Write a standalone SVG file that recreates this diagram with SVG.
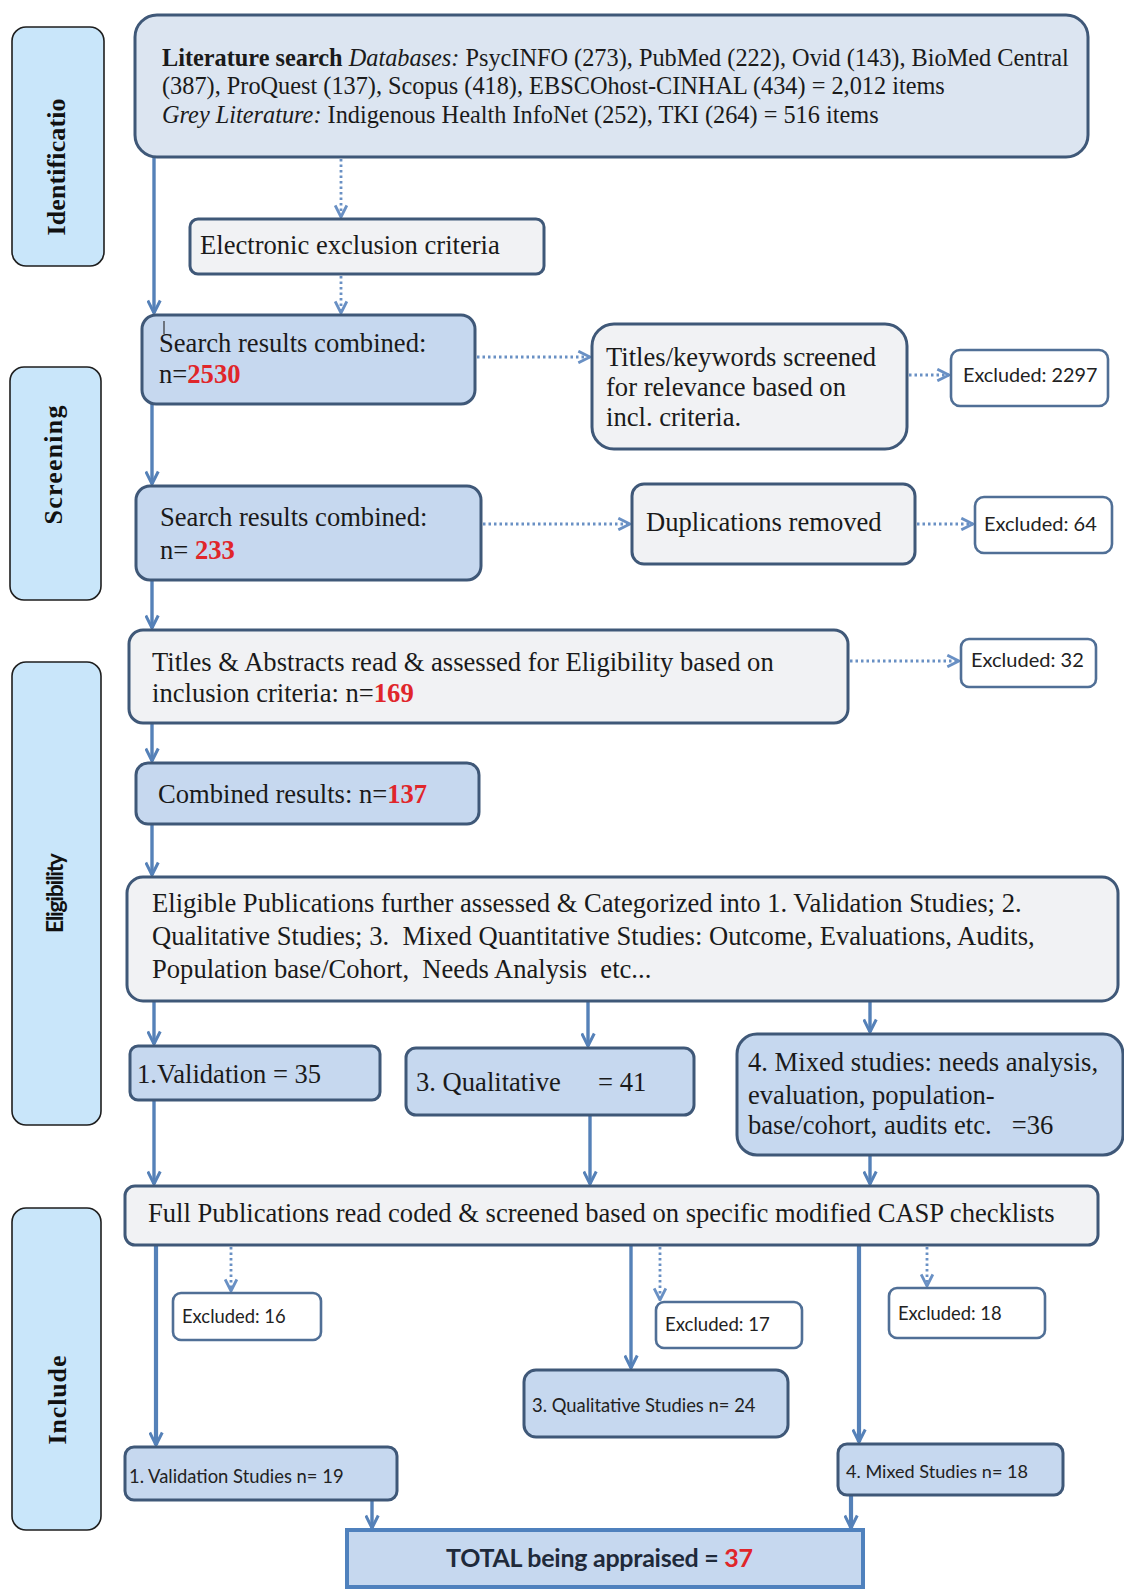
<svg xmlns="http://www.w3.org/2000/svg" width="1124" height="1589" viewBox="0 0 1124 1589">
<style>
.side{fill:#c9e6fa;stroke:#1e1e1e;stroke-width:1.6}
.lab{font-family:"Liberation Serif",serif;font-weight:bold;font-size:26px;fill:#111}
.labs{font-family:Lato,"Liberation Sans",sans-serif;font-weight:bold;font-size:23px;fill:#111}
.bluebox{fill:#c6d8ef;stroke:#3f5878;stroke-width:3}
.greybox{fill:#f1f2f4;stroke:#3f5878;stroke-width:3}
.litbox{fill:#dce5f1;stroke:#3f5878;stroke-width:3}
.exbox{fill:#ffffff;stroke:#506f96;stroke-width:2.6}
.t{font-family:"Liberation Serif",serif;font-size:26.6px;fill:#1a1a1a}
.tl{font-family:"Liberation Serif",serif;font-size:24.3px;fill:#1a1a1a}
.s{font-family:Lato,"Liberation Sans",sans-serif;font-size:18.4px;fill:#222}
.red{fill:#e0262a;font-weight:bold}
.c{fill:none;stroke:#5581b8;stroke-width:3.4}
.d{fill:none;stroke:#6990c4;stroke-width:2.8;stroke-dasharray:2.5 3}
</style>
<defs>
<marker id="ah" viewBox="0 0 12 12" refX="11" refY="6" markerWidth="15" markerHeight="15" markerUnits="userSpaceOnUse" orient="auto">
<path d="M1,1 L11,6 L1,11" fill="none" stroke="#5581b8" stroke-width="2.4"/>
</marker>
<marker id="ahd" viewBox="0 0 12 12" refX="11" refY="6" markerWidth="14" markerHeight="14" markerUnits="userSpaceOnUse" orient="auto">
<path d="M1,1 L11,6 L1,11" fill="none" stroke="#6990c4" stroke-width="2.4"/>
</marker>
</defs>
<rect width="1124" height="1589" fill="#ffffff"/>

<g id="phases">
<g id="phase-identification">
<rect class="side" x="12" y="27" width="92" height="239" rx="14"/>
<text class="lab" transform="translate(56,167) rotate(-90)" text-anchor="middle" dominant-baseline="central" textLength="137">Identificatio</text>
</g>
<g id="phase-screening">
<rect class="side" x="10" y="367" width="91" height="233" rx="14"/>
<text class="lab" transform="translate(53,465) rotate(-90)" text-anchor="middle" dominant-baseline="central" textLength="119">Screening</text>
</g>
<g id="phase-eligibility">
<rect class="side" x="12" y="662" width="89" height="463" rx="14"/>
<text class="labs" transform="translate(54,893) rotate(-90)" text-anchor="middle" dominant-baseline="central" textLength="80">Eligibility</text>
</g>
<g id="phase-include">
<rect class="side" x="12" y="1208" width="89" height="322" rx="14"/>
<text class="lab" transform="translate(57,1400) rotate(-90)" text-anchor="middle" dominant-baseline="central" textLength="89">Include</text>
</g>
</g>

<g id="connectors">
<line class="c" x1="154" y1="157" x2="154" y2="313" marker-end="url(#ah)"/>
<line class="d" x1="341" y1="159" x2="341" y2="217" marker-end="url(#ahd)"/>
<line class="d" x1="341" y1="276" x2="341" y2="313" marker-end="url(#ahd)"/>
<line class="d" x1="477" y1="357" x2="590" y2="357" marker-end="url(#ahd)"/>
<line class="d" x1="909" y1="375" x2="949" y2="375" marker-end="url(#ahd)"/>
<line class="c" x1="152" y1="404" x2="152" y2="484" marker-end="url(#ah)"/>
<line class="d" x1="483" y1="524" x2="630" y2="524" marker-end="url(#ahd)"/>
<line class="d" x1="917" y1="524" x2="973" y2="524" marker-end="url(#ahd)"/>
<line class="c" x1="152" y1="580" x2="152" y2="628" marker-end="url(#ah)"/>
<line class="d" x1="850" y1="661" x2="959" y2="661" marker-end="url(#ahd)"/>
<line class="c" x1="152" y1="723" x2="152" y2="761" marker-end="url(#ah)"/>
<line class="c" x1="152" y1="824" x2="152" y2="875" marker-end="url(#ah)"/>
<line class="c" x1="154" y1="1001" x2="154" y2="1044" marker-end="url(#ah)"/>
<line class="c" x1="588" y1="1001" x2="588" y2="1046" marker-end="url(#ah)"/>
<line class="c" x1="870" y1="1001" x2="870" y2="1032" marker-end="url(#ah)"/>
<line class="c" x1="154" y1="1100" x2="154" y2="1184" marker-end="url(#ah)"/>
<line class="c" x1="590" y1="1115" x2="590" y2="1184" marker-end="url(#ah)"/>
<line class="c" x1="870" y1="1155" x2="870" y2="1184" marker-end="url(#ah)"/>
<line class="c" x1="156" y1="1245" x2="156" y2="1445" marker-end="url(#ah)" style="stroke-width:4.2"/>
<line class="d" x1="231" y1="1247" x2="231" y2="1291" marker-end="url(#ahd)"/>
<line class="c" x1="631" y1="1245" x2="631" y2="1368" marker-end="url(#ah)"/>
<line class="d" x1="660" y1="1247" x2="660" y2="1300" marker-end="url(#ahd)"/>
<line class="c" x1="859" y1="1245" x2="859" y2="1442" marker-end="url(#ah)" style="stroke-width:4.2"/>
<line class="d" x1="927" y1="1247" x2="927" y2="1286" marker-end="url(#ahd)"/>
<line class="c" x1="372" y1="1500" x2="372" y2="1528" marker-end="url(#ah)"/>
<line class="c" x1="851" y1="1495" x2="851" y2="1528" marker-end="url(#ah)" style="stroke-width:4.2"/>
</g>

<g id="n-literature">
<rect class="litbox" x="135" y="15" width="953" height="142" rx="22"/>
<text class="tl" x="162" y="66"><tspan font-weight="bold">Literature search</tspan> <tspan font-style="italic">Databases:</tspan> PsycINFO (273), PubMed (222), Ovid (143), BioMed Central</text>
<text class="tl" x="162" y="94">(387), ProQuest (137), Scopus (418), EBSCOhost-CINHAL (434) = 2,012 items</text>
<text class="tl" x="162" y="123"><tspan font-style="italic">Grey Literature:</tspan> Indigenous Health InfoNet (252), TKI (264) = 516 items</text>
</g>

<g id="n-electronic">
<rect class="greybox" x="190" y="219" width="354" height="55" rx="8"/>
<text class="t" x="200" y="254">Electronic exclusion criteria</text>
</g>

<g id="n-search2530">
<rect class="bluebox" x="142" y="315" width="333" height="89" rx="14"/>
<line x1="164" y1="321" x2="164" y2="334" stroke="#333" stroke-width="1.2"/>
<text class="t" x="159" y="352">Search results combined:</text>
<text class="t" x="159" y="383">n=<tspan class="red">2530</tspan></text>
</g>

<g id="n-titles-kw">
<rect class="greybox" x="592" y="324" width="315" height="125" rx="22"/>
<text class="t" x="606" y="366">Titles/keywords screened</text>
<text class="t" x="606" y="396">for relevance based on</text>
<text class="t" x="606" y="426">incl. criteria.</text>
</g>

<g id="n-ex2297">
<rect class="exbox" x="951" y="350" width="157" height="56" rx="9"/>
<text class="s" x="963" y="382" style="font-size:19.8px">Excluded: 2297</text>
</g>

<g id="n-search233">
<rect class="bluebox" x="136" y="486" width="345" height="94" rx="14"/>
<text class="t" x="160" y="526">Search results combined:</text>
<text class="t" x="160" y="559">n= <tspan class="red">233</tspan></text>
</g>

<g id="n-duplications">
<rect class="greybox" x="632" y="484" width="283" height="80" rx="12"/>
<text class="t" x="646" y="531">Duplications removed</text>
</g>

<g id="n-ex64">
<rect class="exbox" x="975" y="497" width="137" height="56" rx="9"/>
<text class="s" x="984" y="531" style="font-size:20px">Excluded: 64</text>
</g>

<g id="n-titles-abs">
<rect class="greybox" x="129" y="630" width="719" height="93" rx="14"/>
<text class="t" x="152" y="671">Titles &amp; Abstracts read &amp; assessed for Eligibility based on</text>
<text class="t" x="152" y="702">inclusion criteria: n=<tspan class="red">169</tspan></text>
</g>

<g id="n-ex32">
<rect class="exbox" x="961" y="639" width="135" height="48" rx="8"/>
<text class="s" x="971" y="667" style="font-size:20px">Excluded: 32</text>
</g>

<g id="n-combined137">
<rect class="bluebox" x="136" y="763" width="343" height="61" rx="12"/>
<text class="t" x="158" y="803">Combined results: n=<tspan class="red">137</tspan></text>
</g>

<g id="n-eligible">
<rect class="greybox" x="127" y="877" width="991" height="124" rx="16"/>
<text class="t" x="152" y="912">Eligible Publications further assessed &amp; Categorized into 1. Validation Studies; 2.</text>
<text class="t" x="152" y="945" xml:space="preserve">Qualitative Studies; 3.  Mixed Quantitative Studies: Outcome, Evaluations, Audits,</text>
<text class="t" x="152" y="978" xml:space="preserve">Population base/Cohort,  Needs Analysis  etc...</text>
</g>

<g id="n-val35">
<rect class="bluebox" x="130" y="1046" width="250" height="54" rx="8"/>
<text class="t" x="137" y="1083">1.Validation = 35</text>
</g>

<g id="n-qual41">
<rect class="bluebox" x="406" y="1048" width="288" height="67" rx="10"/>
<text class="t" x="416" y="1091">3. Qualitative<tspan x="598">= 41</tspan></text>
</g>

<g id="n-mixed36">
<rect class="bluebox" x="737" y="1034" width="386" height="121" rx="20"/>
<text class="t" x="748" y="1071">4. Mixed studies: needs analysis,</text>
<text class="t" x="748" y="1104">evaluation, population-</text>
<text class="t" x="748" y="1134" xml:space="preserve">base/cohort, audits etc.   =36</text>
</g>

<g id="n-fullpubs">
<rect class="greybox" x="125" y="1186" width="973" height="59" rx="10"/>
<text class="t" x="148" y="1222">Full Publications read coded &amp; screened based on specific modified CASP checklists</text>
</g>

<g id="n-ex16">
<rect class="exbox" x="173" y="1293" width="148" height="47" rx="8"/>
<text class="s" x="182" y="1323">Excluded: 16</text>
</g>

<g id="n-ex17">
<rect class="exbox" x="656" y="1302" width="146" height="46" rx="8"/>
<text class="s" x="665" y="1331" style="font-size:18.6px">Excluded: 17</text>
</g>

<g id="n-ex18">
<rect class="exbox" x="889" y="1288" width="156" height="50" rx="8"/>
<text class="s" x="898" y="1320">Excluded: 18</text>
</g>

<g id="n-qual24">
<rect class="bluebox" x="524" y="1370" width="264" height="67" rx="12"/>
<text class="s" x="532" y="1412">3. Qualitative Studies n= 24</text>
</g>

<g id="n-val19">
<rect class="bluebox" x="125" y="1447" width="272" height="53" rx="9"/>
<text class="s" x="129" y="1483">1. Validation Studies n= 19</text>
</g>

<g id="n-mixed18">
<rect class="bluebox" x="838" y="1444" width="225" height="51" rx="9"/>
<text class="s" x="846" y="1478" style="font-size:18.1px">4. Mixed Studies n= 18</text>
</g>

<g id="n-total">
<rect x="347" y="1530" width="516" height="57" fill="#c6d8ef" stroke="#4f81bd" stroke-width="4"/>
<text x="446" y="1567" font-family="Lato,'Liberation Sans',sans-serif" font-weight="bold" font-size="25" fill="#1f2a3a" textLength="307">TOTAL being appraised = <tspan fill="#e0262a">37</tspan></text>
</g>
</svg>
